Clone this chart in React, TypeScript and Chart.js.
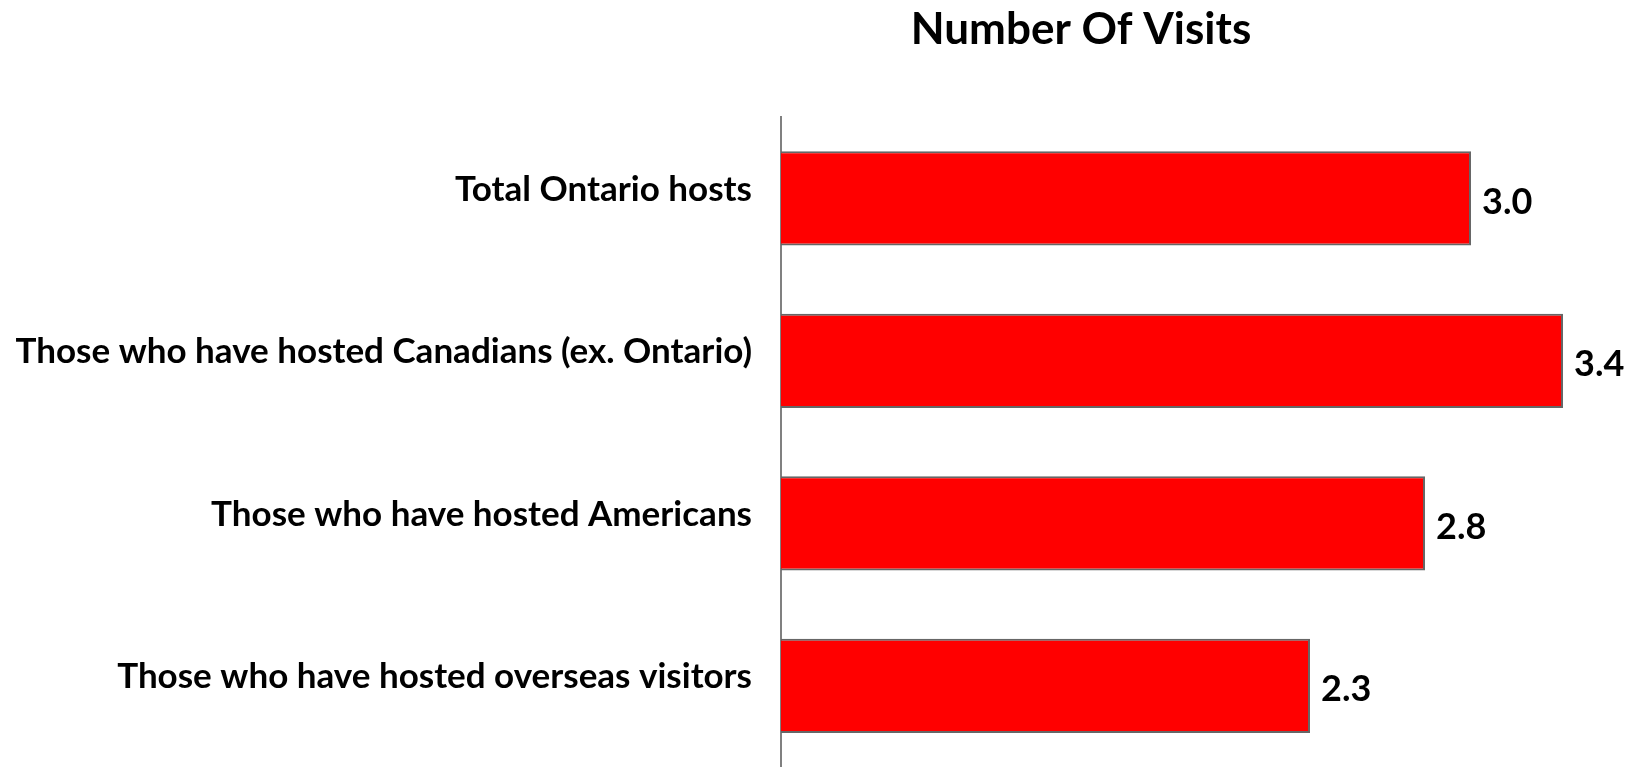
import React, { useEffect, useRef } from "react";
import { Chart, registerables } from "chart.js";

Chart.register(...registerables);

const categories = [
  "Total Ontario hosts",
  "Those who have hosted Canadians (ex. Ontario)",
  "Those who have hosted Americans",
  "Those who have hosted overseas visitors",
];
const visits = [3.0, 3.4, 2.8, 2.3];
const titleText = "Number Of Visits";

const FONT = "Lato, 'Open Sans', sans-serif";

const valueLabels = {
  id: "valueLabels",
  afterDatasetsDraw(chart: any) {
    const ctx = chart.ctx;
    const meta = chart.getDatasetMeta(0);
    ctx.save();
    ctx.fillStyle = "#000";
    ctx.font = `bold 36px ${FONT}`;
    ctx.textAlign = "left";
    ctx.textBaseline = "middle";
    meta.data.forEach((el: any, i: number) => {
      ctx.fillText(visits[i].toFixed(1), el.x + 11, el.y + 4);
    });
    ctx.restore();
  },
};

const customTitle = {
  id: "customTitle",
  afterDraw(chart: any) {
    const ctx = chart.ctx;
    ctx.save();
    ctx.fillStyle = "#000";
    ctx.font = `bold 44px ${FONT}`;
    ctx.textAlign = "center";
    ctx.textBaseline = "middle";
    ctx.fillText(titleText, chart.chartArea.left + 300, 30);
    ctx.restore();
  },
};

export default function App() {
  const ref = useRef<HTMLCanvasElement>(null);
  useEffect(() => {
    if (!ref.current) return;
    const chart = new Chart(ref.current, {
      type: "bar",
      data: {
        labels: categories,
        datasets: [
          {
            data: visits,
            backgroundColor: "#FF0000",
            borderColor: "#666666",
            borderWidth: 2,
            categoryPercentage: 1,
            barPercentage: 0.58,
          },
        ],
      },
      options: {
        indexAxis: "y",
        animation: false,
        responsive: false,
        devicePixelRatio: 1,
        layout: { padding: { top: 117, right: 24, left: 0, bottom: 0 } },
        plugins: {
          legend: { display: false },
          title: { display: false },
          tooltip: { enabled: false },
        },
        scales: {
          x: { display: false, min: 0, max: 3.6 },
          y: {
            afterFit(scale: any) {
              scale.width = 781;
              scale.paddingTop = 0;
              scale.paddingBottom = 0;
            },
            grid: { display: false, drawTicks: false },
            border: { display: true, color: "#808080", width: 2 },
            ticks: {
              color: "#000",
              padding: 29,
              labelOffset: -9,
              font: { family: FONT, weight: "bold", size: 35 },
            },
          },
        },
      },
      plugins: [valueLabels, customTitle],
    });
    return () => chart.destroy();
  }, []);
  return (
    <div style={{ position: "fixed", left: 0, top: 0, width: 1633, height: 767, background: "#fff" }}>
      <canvas ref={ref} width={1633} height={767} style={{ display: "block" }} />
    </div>
  );
}
